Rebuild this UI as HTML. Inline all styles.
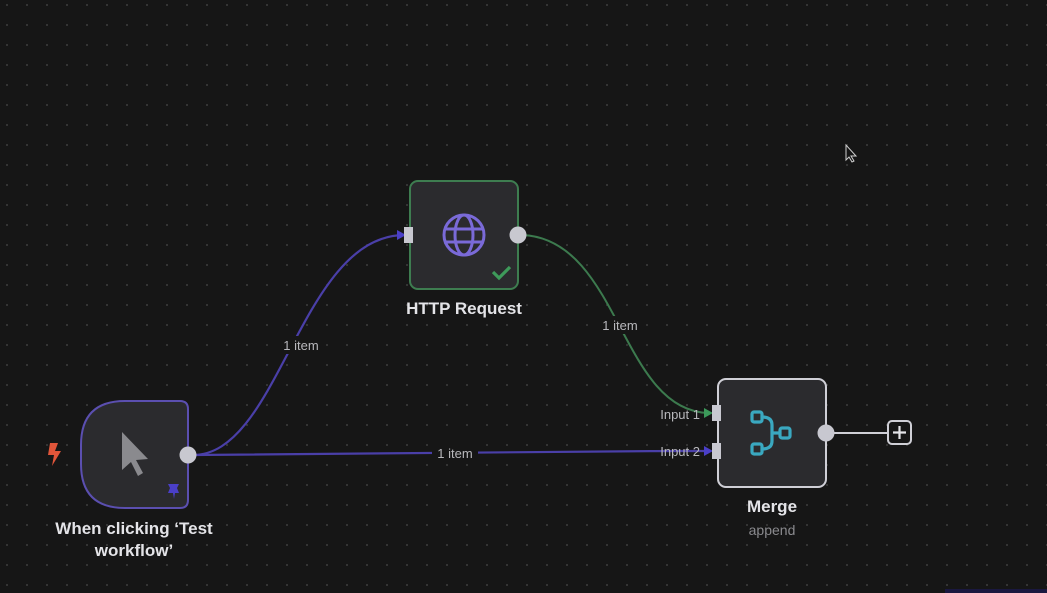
<!DOCTYPE html>
<html><head><style>
html,body{margin:0;padding:0;background:#151515;}
svg{display:block;font-family:"Liberation Sans",sans-serif;}
</style></head><body>
<svg width="1047" height="593" viewBox="0 0 1047 593" xmlns="http://www.w3.org/2000/svg">
<defs>
<pattern id="d" width="20" height="20" patternUnits="userSpaceOnUse" x="6" y="4">
<circle cx="1" cy="1" r="0.9" fill="#4a4a4a"/>
</pattern>
</defs>
<rect width="1047" height="593" fill="#161616"/>
<rect width="1047" height="593" fill="url(#d)"/>

<!-- edges -->
<path d="M193,455 C280,455 300,235 405,235" stroke="#4a3fa8" stroke-width="2.2" fill="none"/>
<path d="M193,455 C400,454 550,451 708,451" stroke="#4a3fa8" stroke-width="2.2" fill="none"/>
<path d="M523,235 C620,240 620,410 708,413" stroke="#3c7a4e" stroke-width="2" fill="none"/>
<path d="M831,433 L888,433" stroke="#cfcfd6" stroke-width="2"/>
<polygon points="704,408 713,413 704,418" fill="#3c9a5a"/>
<polygon points="704,446 713,451 704,456" fill="#4a3fc8"/>
<polygon points="397,230 406,235 397,240" fill="#4a3fc8"/>

<!-- edge labels -->
<g fill="#b8b8bc" font-size="13" text-anchor="middle">
<rect x="278" y="336" width="46" height="18" fill="#161616"/>
<text x="301" y="350">1 item</text>
<rect x="597" y="316" width="46" height="18" fill="#161616"/>
<text x="620" y="330">1 item</text>
<rect x="432" y="444" width="46" height="18" fill="#161616"/>
<text x="455" y="458">1 item</text>
</g>

<!-- trigger node -->
<path d="M125,401 L180,401 Q188,401 188,409 L188,500 Q188,508 180,508 L125,508 Q81,508 81,464 L81,445 Q81,401 125,401 Z" fill="#2b2b2e" stroke="#5b4fb0" stroke-width="2"/>
<path d="M122,432 L122,470 L131,462 L138,476 L143,473 L136,460 L148,459 Z" fill="#8a8a8e"/>
<path d="M168,484 L179,484 L177,488 L179,493 L175,493 L174,499 L173,493 L168,493 L170,488 Z" fill="#4a3fc8"/>
<path d="M50,443 L58,443 L55,451 L61,451 L52,466 L54,455 L48,455 Z" fill="#e0553a"/>
<circle cx="188" cy="455" r="8.5" fill="#c8c8d0"/>
<g fill="#e4e4e8" font-size="17" text-anchor="middle" font-weight="bold">
<text x="134" y="534">When clicking ‘Test</text>
<text x="134" y="556">workflow’</text>
</g>

<!-- HTTP node -->
<rect x="410" y="181" width="108" height="108" rx="8" fill="#2b2b2e" stroke="#3e7d50" stroke-width="2"/>
<g stroke="#7a6ad8" stroke-width="3" fill="none">
<circle cx="464" cy="235" r="20"/>
<ellipse cx="464" cy="235" rx="9" ry="20"/>
<line x1="444" y1="229" x2="484" y2="229"/>
<line x1="444" y1="242" x2="484" y2="242"/>
</g>
<path d="M493,272 L499,278 L510,267" stroke="#3e9a5a" stroke-width="3.2" fill="none"/>
<rect x="404" y="227" width="9" height="16" fill="#c8c8d0"/>
<circle cx="518" cy="235" r="8.5" fill="#c8c8d0"/>
<text x="464" y="314" fill="#e4e4e8" font-size="17" font-weight="bold" text-anchor="middle">HTTP Request</text>

<!-- Merge node -->
<rect x="718" y="379" width="108" height="108" rx="8" fill="#2b2b2e" stroke="#cfcfd6" stroke-width="2"/>
<g stroke="#3aa8c0" stroke-width="3.2" fill="none">
<rect x="752" y="412" width="10" height="10" rx="2"/>
<rect x="752" y="444" width="10" height="10" rx="2"/>
<rect x="780" y="428" width="10" height="10" rx="2"/>
<path d="M762,417 Q772,417 772,425 L772,441 Q772,449 762,449 M772,433 L780,433"/>
</g>
<rect x="712" y="405" width="9" height="16" fill="#c8c8d0"/>
<rect x="712" y="443" width="9" height="16" fill="#c8c8d0"/>
<circle cx="826" cy="433" r="8.5" fill="#c8c8d0"/>
<rect x="888" y="421" width="23" height="23" rx="4" fill="#161616" stroke="#cfcfd6" stroke-width="2"/>
<path d="M899.5,426 V439 M893,432.5 H906" stroke="#e4e4e8" stroke-width="2.2"/>
<g fill="#b8b8bc" font-size="13" text-anchor="end">
<text x="700" y="419">Input 1</text>
<text x="700" y="456">Input 2</text>
</g>
<text x="772" y="512" fill="#e4e4e8" font-size="17" font-weight="bold" text-anchor="middle">Merge</text>
<text x="772" y="535" fill="#8a8a8e" font-size="14" text-anchor="middle">append</text>

<!-- cursor -->
<path d="M846,145 L846,160 L849,157 L852,162 L854,161 L851,156 L856,156 Z" fill="#161616" stroke="#d0d0d0" stroke-width="1"/>
<rect x="945" y="589" width="102" height="4" fill="#1a1840"/>
</svg>
</body></html>
